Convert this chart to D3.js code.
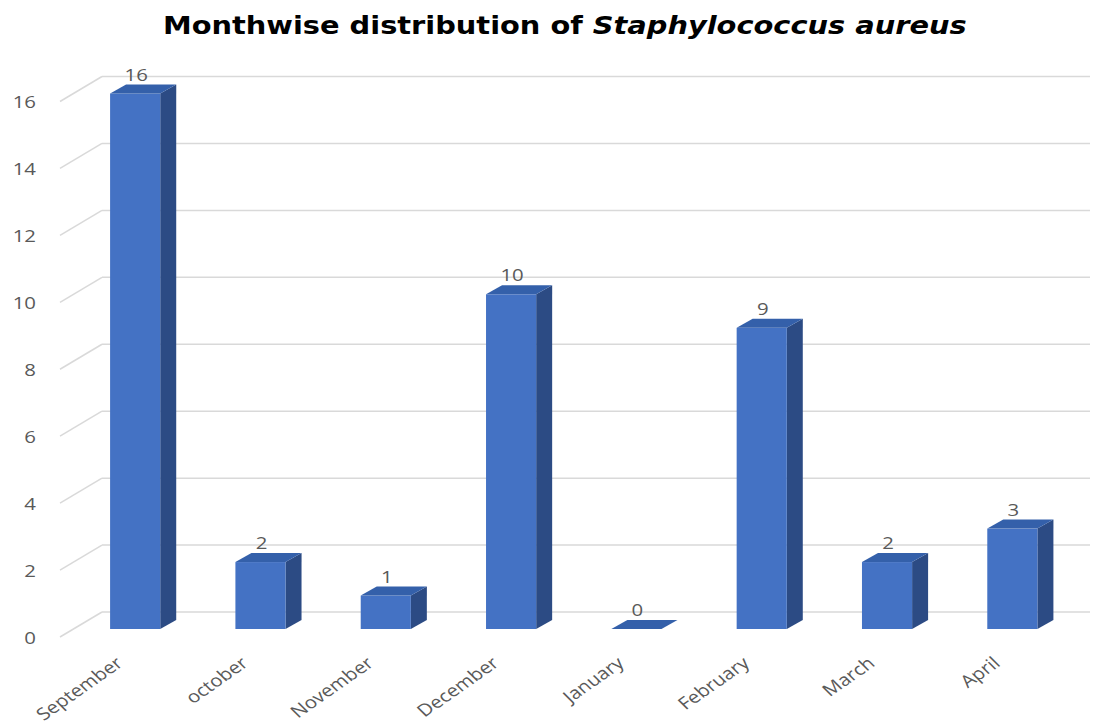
<!DOCTYPE html>
<head>
    <meta charset="utf-8">
    <style>
        html, body { margin: 0; padding: 0; background: #fff; }
        svg { display: block; }
        .grid line { stroke: #d9d9d9; stroke-width: 1.5px; }
        .tick-label, .value-label, .cat-label {
            font-family: "Open Sans", sans-serif;
            font-size: 17px;
            fill: #595959;
        }
    </style>
    <script src="https://cdn.jsdelivr.net/npm/d3@7"></script>
</head>
<body>
    <div id="chart"></div>
    <script>
        // data
        var months = ["September", "october", "November", "December", "January", "February", "March", "April"];
        var counts = [16, 2, 1, 10, 0, 9, 2, 3];
        var yTicks = [0, 2, 4, 6, 8, 10, 12, 14, 16];

        var width = 1094, height = 724;
        // the original picture is a bit stretched sideways, texts too
        var sx = 1.2;

        var svg = d3.select("#chart").append("svg")
            .attr("width", width)
            .attr("height", height);

        // front face of the columns
        var x = d3.scaleBand()
            .domain(months)
            .range([72.5, 1075])
            .paddingInner(0.6)
            .paddingOuter(0.3);

        var y = d3.scaleLinear()
            .domain([0, 16])
            .range([629, 93.5]);

        // fake 3d: depth of a column and the walls
        var depthX = 16, depthY = -9;
        var wallFrontX = 60, wallBackX = 102, wallRight = 1090;
        var floorFront = 8, floorBack = -17;

        // gridlines, the little slant is the side wall
        var grid = svg.append("g").attr("class", "grid");
        yTicks.forEach(function (t) {
            var yy = y(t);
            grid.append("line")
                .attr("x1", wallFrontX).attr("y1", yy + floorFront)
                .attr("x2", wallBackX).attr("y2", yy + floorBack);
            grid.append("line")
                .attr("x1", wallBackX).attr("y1", yy + floorBack)
                .attr("x2", wallRight).attr("y2", yy + floorBack);
        });

        svg.append("g").selectAll("text")
            .data(yTicks)
            .enter().append("text")
            .attr("class", "tick-label")
            .attr("text-anchor", "end")
            .attr("dy", "0.35em")
            .attr("transform", function (d) {
                return "translate(36," + (y(d) + 9) + ") scale(" + sx + ",1)";
            })
            .text(function (d) { return d; });

        // columns
        var bars = svg.append("g").selectAll("g")
            .data(months.map(function (m, i) { return { month: m, value: counts[i] }; }))
            .enter().append("g");

        function pts(arr) {
            return arr.map(function (p) { return p.join(","); }).join(" ");
        }

        bars.each(function (d) {
            var g = d3.select(this);
            var x0 = x(d.month), x1 = x0 + x.bandwidth();
            var yb = y(0), yt = y(d.value);

            if (d.value > 0) {
                // side
                g.append("polygon")
                    .attr("points", pts([[x1, yt], [x1 + depthX, yt + depthY], [x1 + depthX, yb + depthY], [x1, yb]]))
                    .attr("fill", "#2c4b84");
                // front
                g.append("rect")
                    .attr("x", x0).attr("y", yt)
                    .attr("width", x.bandwidth())
                    .attr("height", yb - yt)
                    .attr("fill", "#4472c4");
            }
            // top
            g.append("polygon")
                .attr("points", pts([[x0, yt], [x0 + depthX, yt + depthY], [x1 + depthX, yt + depthY], [x1, yt]]))
                .attr("fill", "#3460aa");
        });

        // value labels
        bars.append("text")
            .attr("class", "value-label")
            .attr("text-anchor", "middle")
            .attr("transform", function (d) {
                var cx = x(d.month) + x.bandwidth() / 2 + 1;
                return "translate(" + cx + "," + (y(d.value) + depthY - 4) + ") scale(" + sx + ",1)";
            })
            .text(function (d) { return d.value; });

        // category labels, slanted
        svg.append("g").selectAll("text")
            .data(months)
            .enter().append("text")
            .attr("class", "cat-label")
            .attr("text-anchor", "end")
            .attr("transform", function (d) {
                var cx = x(d) + x.bandwidth() / 2 - 11;
                return "translate(" + cx + ",665) scale(" + sx + ",1) rotate(-40)";
            })
            .text(function (d) { return d; });

        // title, first part bold, species name bold italic
        var title = svg.append("text")
            .style("font-family", "'DejaVu Sans', sans-serif")
            .style("font-weight", "bold")
            .style("font-size", "24.5px")
            .style("fill", "#000");
        title.append("tspan").text("Monthwise distribution of ");
        title.append("tspan").style("font-style", "italic").text("Staphylococcus aureus");

        // stretch it to the same span as in the picture
        var titleLeft = 163, titleW = 804;
        var w = title.node().getComputedTextLength();
        title.attr("transform", "translate(" + titleLeft + ",34) scale(" + (titleW / w) + ",1)");
    </script>
</body>
